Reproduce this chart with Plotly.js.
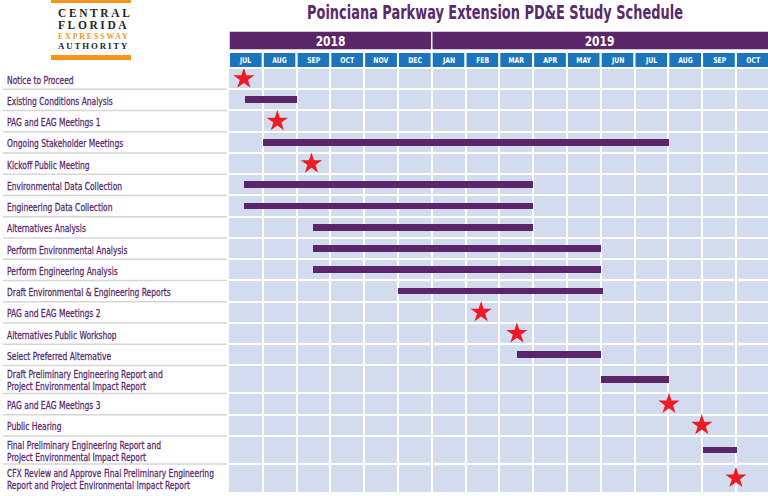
<!DOCTYPE html>
<html>
<head>
<meta charset="utf-8">
<script src="https://cdn.plot.ly/plotly-3.0.1.min.js"></script>
<style>html,body{margin:0;padding:0;background:#fff;}#chart{width:768px;height:496px;}</style>
</head>
<body>
<div id="chart"></div>
<script>
// ---------------- DATA ----------------
const chartTitle = "Poinciana Parkway Extension PD&E Study Schedule";
const tasks = [
  "Notice to Proceed",
  "Existing Conditions Analysis",
  "PAG and EAG Meetings 1",
  "Ongoing Stakeholder Meetings",
  "Kickoff Public Meeting",
  "Environmental Data Collection",
  "Engineering Data Collection",
  "Alternatives Analysis",
  "Perform Environmental Analysis",
  "Perform Engineering Analysis",
  "Draft Environmental & Engineering Reports",
  "PAG and EAG Meetings 2",
  "Alternatives Public Workshop",
  "Select Preferred Alternative",
  "Draft Preliminary Engineering Report and<br>Project Environmental Impact Report",
  "PAG and EAG Meetings 3",
  "Public Hearing",
  "Final Preliminary Engineering Report and<br>Project Environmental Impact Report",
  "CFX Review and Approve Final Preliminary Engineering<br>Report and Project Environmental Impact Report"
];
const months = ["JUL","AUG","SEP","OCT","NOV","DEC","JAN","FEB","MAR","APR","MAY","JUN","JUL","AUG","SEP","OCT"];
const years = ["2018", "2019"];
const yearFirstMonth = [0, 6];   // index into months

// month positions: 0 = start of JUL 2018, 1 = start of AUG 2018, ...
const barTasks = [
  "Existing Conditions Analysis",
  "Ongoing Stakeholder Meetings",
  "Environmental Data Collection",
  "Engineering Data Collection",
  "Alternatives Analysis",
  "Perform Environmental Analysis",
  "Perform Engineering Analysis",
  "Draft Environmental & Engineering Reports",
  "Select Preferred Alternative",
  "Draft Preliminary Engineering Report and<br>Project Environmental Impact Report",
  "Final Preliminary Engineering Report and<br>Project Environmental Impact Report"
];
const barStart = [0.48, 1.0, 0.45, 0.45, 2.49, 2.49, 2.49, 5.0, 8.52, 11.0, 14.02];
const barEnd   = [2.0, 13.02, 9.0, 9.0, 9.0, 11.0, 11.0, 11.06, 11.0, 13.02, 15.03];

const milestoneTasks = [
  "Notice to Proceed",
  "PAG and EAG Meetings 1",
  "Kickoff Public Meeting",
  "PAG and EAG Meetings 2",
  "Alternatives Public Workshop",
  "PAG and EAG Meetings 3",
  "Public Hearing",
  "CFX Review and Approve Final Preliminary Engineering<br>Report and Project Environmental Impact Report"
];
const milestoneAt = [0.44, 1.43, 2.44, 7.46, 8.52, 13.02, 13.99, 15.0];

// ---------------- LAYOUT HELPERS ----------------
const W = 768, H = 496, ML = 229, MR = 0, MT = 68, MB = 4;
const PW = W - ML - MR, PH = H - MT - MB;
const px2x = p => (p - ML) / PW;
const py2y = p => (H - MB - p) / PH;

const purple = "#5b2569", textPurple = "#5a2a6e", blue = "#1c75bc",
      cell = "#d3dcee", red = "#ed1c24", orange = "#f7941d";
const narrow = "Liberation Sans Narrow, DejaVu Sans Condensed, Arial Narrow, sans-serif";
const labelSize = 10.5;

// row geometry
const rowH = tasks.map(t => t.includes("<br>") ? 1.32 : 1.0);
const rowTop = [];
let acc = 0;
rowH.forEach(h => { rowTop.push(acc); acc += h; });
const total = acc;
const rowCenter = rowTop.map((t, i) => t + rowH[i] / 2);
const bounds = rowTop.concat([total]);
const centerOf = name => rowCenter[tasks.indexOf(name)];

// ---------------- TRACES ----------------
const barTrace = {
  type: "bar", orientation: "h",
  y: barTasks.map(centerOf),
  base: barStart,
  x: barEnd.map((e, i) => e - barStart[i]),
  width: 0.32,
  marker: { color: purple, line: { width: 0 } },
  hoverinfo: "skip", showlegend: false
};
const starTrace = {
  type: "scatter", mode: "markers",
  x: milestoneAt,
  y: milestoneTasks.map(centerOf),
  marker: { symbol: "star", size: 16, color: red, line: { width: 0 } },
  hoverinfo: "skip", showlegend: false, cliponaxis: false
};

// ---------------- SHAPES / ANNOTATIONS ----------------
const shapes = [];
const annotations = [];
const labelIdx = [];
const logoIdx = {};

// year band
years.forEach((y, i) => {
  const x0 = yearFirstMonth[i];
  const x1 = i + 1 < years.length ? yearFirstMonth[i + 1] : months.length;
  shapes.push({ type: "rect", xref: "x", yref: "paper", x0: x0, x1: x1,
    y0: py2y(50), y1: py2y(31), fillcolor: purple, line: { color: "white", width: 1.5 }, layer: "above" });
  const visEnd = Math.min(x1, 15.95);
  annotations.push({ xref: "x", yref: "paper", x: (x0 + visEnd) / 2, y: py2y(41),
    text: y, showarrow: false, xanchor: "center", yanchor: "middle",
    font: { family: narrow, size: 14, color: "white", weight: "bold" } });
});
// month row
months.forEach((m, i) => {
  shapes.push({ type: "rect", xref: "x", yref: "paper", x0: i, x1: i + 1,
    y0: py2y(68), y1: py2y(52), fillcolor: blue, line: { color: "white", width: 2 }, layer: "above" });
  annotations.push({ xref: "x", yref: "paper", x: i + 0.5, y: py2y(60),
    text: m, showarrow: false, xanchor: "center", yanchor: "middle",
    font: { family: narrow, size: 8, color: "white", weight: "bold" } });
});

// left labels + separator lines
tasks.forEach((t, i) => {
  labelIdx.push(annotations.length);
  annotations.push({ xref: "paper", yref: "y", x: px2x(5), y: rowCenter[i],
    text: t, showarrow: false, xanchor: "left", yanchor: "middle", align: "left", yshift: -1,
    font: { family: narrow, size: labelSize, color: textPurple } });
  if (i > 0) {
    shapes.push({ type: "line", xref: "paper", yref: "y", x0: px2x(3), x1: px2x(227),
      y0: rowTop[i], y1: rowTop[i], line: { color: "#d6d6d6", width: 1.5 } });
  }
});

// logo
shapes.push({ type: "rect", xref: "paper", yref: "paper", x0: px2x(51), x1: px2x(131),
  y0: py2y(3), y1: py2y(0), fillcolor: orange, line: { width: 0 } });
shapes.push({ type: "rect", xref: "paper", yref: "paper", x0: px2x(51), x1: px2x(131),
  y0: py2y(60), y1: py2y(55), fillcolor: orange, line: { width: 0 } });
const logo = [
  { t: "CENTRAL", y: 13, s: 11.5, c: "#262626", sp: 2.6 },
  { t: "FLORIDA", y: 25, s: 11.5, c: "#262626", sp: 2.6 },
  { t: "EXPRESSWAY", y: 36, s: 7.8, c: orange, sp: 1.9 },
  { t: "AUTHORITY", y: 45.5, s: 8.8, c: "#262626", sp: 1.9 }
];
logo.forEach(l => {
  logoIdx[annotations.length] = l.sp;
  annotations.push({ xref: "paper", yref: "paper", x: px2x(56), y: py2y(l.y),
    text: l.t, showarrow: false, xanchor: "left", yanchor: "middle", align: "left",
    font: { family: "Liberation Serif, DejaVu Serif, serif", size: l.s, color: l.c, weight: "bold" } });
});

const layout = {
  width: W, height: H,
  margin: { l: ML, r: MR, t: MT, b: MB, pad: 0 },
  paper_bgcolor: "white", plot_bgcolor: cell,
  title: { text: chartTitle, xref: "container", yref: "container", x: 495 / W, y: 1 - 12 / H,
    xanchor: "center", yanchor: "middle",
    font: { family: narrow, size: 20, color: textPurple, weight: "bold" } },
  xaxis: { range: [0, 15.95], tickvals: months.map((m, i) => i).concat([months.length]),
    showticklabels: false, ticks: "", showgrid: true, gridcolor: "white", gridwidth: 2,
    zeroline: false, showline: false, fixedrange: true },
  yaxis: { range: [total, 0], tickvals: bounds, showticklabels: false, ticks: "",
    showgrid: true, gridcolor: "white", gridwidth: 2, zeroline: false, showline: false, fixedrange: true },
  shapes: shapes, annotations: annotations,
  bargap: 0, showlegend: false
};

function squeeze(el, s, ty) {
  if (!el) return;
  const x = parseFloat(el.getAttribute("x")) || 0;
  el.setAttribute("transform", "matrix(" + s + ",0,0,1," + (x * (1 - s)) + "," + (ty || 0) + ")");
}

Plotly.newPlot("chart", [barTrace, starTrace], layout, { displayModeBar: false, staticPlot: true })
.then(() => {
  // condensed look for title
  squeeze(document.querySelector("text.gtitle"), 0.72);
  // row labels: condensed, slightly heavier, a bit tighter line spacing
  labelIdx.forEach(i => {
    const el = document.querySelector('g.annotation[data-index="' + i + '"] text.annotation-text');
    if (!el) return;
    let shrinkPx = 0;
    el.querySelectorAll("tspan.line").forEach((ts, j) => {
      if (j === 0) return;
      const raw = ts.getAttribute("dy") || "";
      const dy = parseFloat(raw);
      if (!isNaN(dy) && dy > 0) {
        const nd = dy * 1.12 / 1.3;
        const unit = raw.indexOf("em") >= 0 ? "em" : "";
        shrinkPx += (dy - nd) * (unit === "em" ? labelSize : 1);
        ts.setAttribute("dy", nd + unit);
      }
    });
    el.style.stroke = textPurple;
    el.style.strokeWidth = "0.25px";
    squeeze(el, 0.8, shrinkPx / 2);
  });
  Object.keys(logoIdx).forEach(i => {
    const el = document.querySelector('g.annotation[data-index="' + i + '"] text.annotation-text');
    if (el) el.style.letterSpacing = logoIdx[i] + "px";
  });
  // condensed month / year labels
  for (let i = 0; i < years.length + months.length; i++) {
    squeeze(document.querySelector('g.annotation[data-index="' + i + '"] text.annotation-text'), 0.85);
  }
});
</script>
</body>
</html>
